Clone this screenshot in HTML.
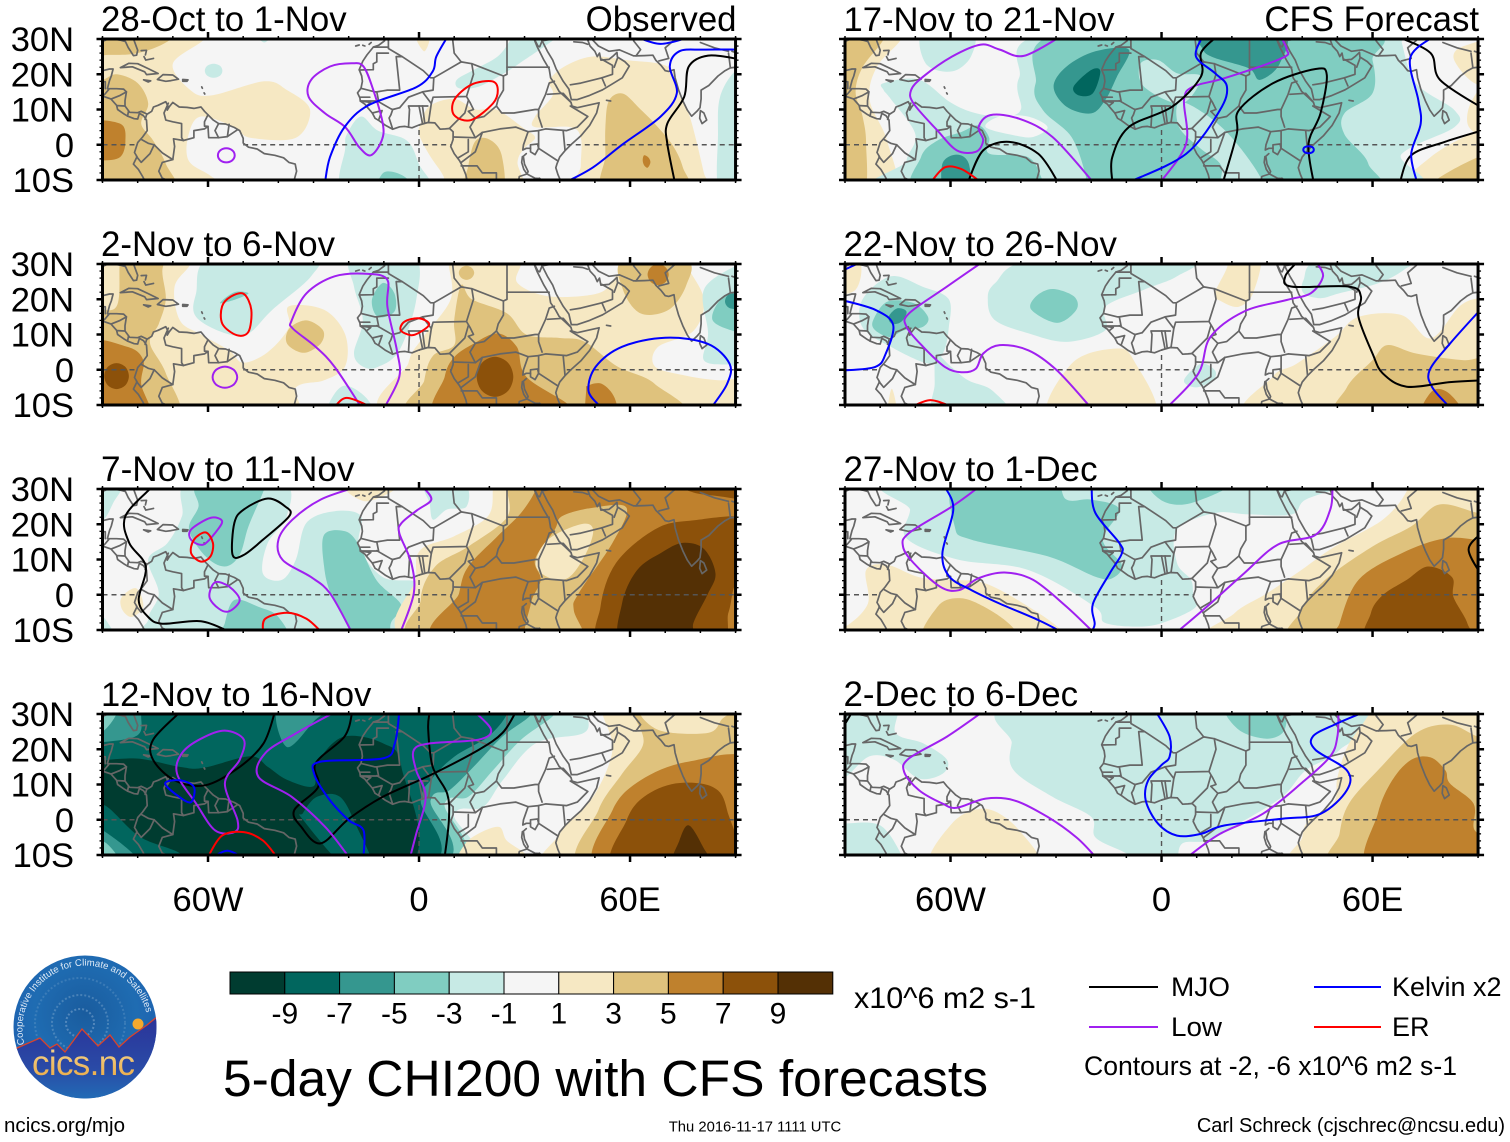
<!DOCTYPE html>
<html lang="en">
<head>
<meta charset="utf-8">
<title>5-day CHI200 with CFS forecasts</title>
<style>
html,body{margin:0;padding:0;background:#fff;}
svg{display:block;}
text{font-family:"Liberation Sans",sans-serif;fill:#000;}
</style>
</head>
<body>
<svg id="chart" xmlns="http://www.w3.org/2000/svg" width="1510" height="1142" viewBox="0 0 1510 1142">
  <rect x="0" y="0" width="1510" height="1142" fill="#fff"/>
  <g id="panels"></g>
  <g id="colorbar"></g>

  <text x="854" y="1008" font-size="30" textLength="182" lengthAdjust="spacingAndGlyphs">x10^6 m2 s-1</text>
  <text x="223" y="1096" font-size="51.4" textLength="765" lengthAdjust="spacingAndGlyphs">5-day CHI200 with CFS forecasts</text>

  <g>
    <line x1="1089" x2="1158" y1="987" y2="987" stroke="#000" stroke-width="2"/>
    <text x="1171" y="996" font-size="27" textLength="59" lengthAdjust="spacingAndGlyphs">MJO</text>
    <line x1="1314" x2="1381" y1="987" y2="987" stroke="#0000ff" stroke-width="2"/>
    <text x="1392" y="996" font-size="27">Kelvin x2</text>
    <line x1="1089" x2="1158" y1="1027" y2="1027" stroke="#a020f0" stroke-width="2"/>
    <text x="1171" y="1036" font-size="27" textLength="51" lengthAdjust="spacingAndGlyphs">Low</text>
    <line x1="1314" x2="1381" y1="1027" y2="1027" stroke="#ff0000" stroke-width="2"/>
    <text x="1392" y="1036" font-size="27">ER</text>
    <text x="1084" y="1075" font-size="27" textLength="373" lengthAdjust="spacingAndGlyphs">Contours at -2, -6 x10^6 m2 s-1</text>
  </g>

  <text x="4" y="1132" font-size="20.5" textLength="121" lengthAdjust="spacingAndGlyphs">ncics.org/mjo</text>
  <text x="755" y="1131.5" font-size="14.8" text-anchor="middle">Thu 2016-11-17 1111 UTC</text>
  <text x="1505" y="1132" font-size="20" text-anchor="end">Carl Schreck (cjschrec@ncsu.edu)</text>

  <g>
    <defs>
      <radialGradient id="logoBlue" cx="50%" cy="40%" r="60%">
        <stop offset="0" stop-color="#1a5c9e"/>
        <stop offset="0.6" stop-color="#1f6cb2"/>
        <stop offset="1" stop-color="#1e5fb0"/>
      </radialGradient>
      <linearGradient id="logoLow" x1="0" y1="0" x2="0" y2="1">
        <stop offset="0" stop-color="#2b3399"/>
        <stop offset="0.55" stop-color="#2a4aa6"/>
        <stop offset="1" stop-color="#1f77bb"/>
      </linearGradient>
      <linearGradient id="logoText" x1="0" y1="0" x2="0" y2="1">
        <stop offset="0" stop-color="#f4d895"/>
        <stop offset="1" stop-color="#eaa63e"/>
      </linearGradient>
      <clipPath id="logoClip"><circle cx="85" cy="1027" r="71.5"/></clipPath>
      <path id="logoArc" d="M 24.4 1044.4 A 63 63 0 1 1 146.4 1012.8"/>
    </defs>
    <circle cx="85" cy="1027" r="71.5" fill="url(#logoBlue)"/>
    <g clip-path="url(#logoClip)">
      <circle cx="80" cy="1023" r="14" fill="none" stroke="#7fa8cf" stroke-width="2" stroke-dasharray="2 2" opacity=".55"/>
      <circle cx="80" cy="1023" r="28" fill="none" stroke="#7fa8cf" stroke-width="2" stroke-dasharray="2 2" opacity=".45"/>
      <circle cx="80" cy="1023" r="45" fill="none" stroke="#7fa8cf" stroke-width="2" stroke-dasharray="2 2" opacity=".3"/>
      <circle cx="138" cy="1024" r="5.5" fill="#f5a92e"/>
      <path d="M10 1052 L17 1048 L40 1038 L50 1048 L57 1044 L65 1052 L82 1029 L98 1046 L110 1035 L119 1047 L130 1037 L147 1025 L158 1016 L160 1110 L10 1110 Z" fill="url(#logoLow)" stroke="#d9432c" stroke-width="1.3"/>
    </g>
    <text font-size="9.6" style="fill:#dfeaf6"><textPath href="#logoArc" startOffset="0">Cooperative Institute for Climate and Satellites</textPath></text>
    <text x="32" y="1075" font-size="35" textLength="103" lengthAdjust="spacing" style="fill:url(#logoText)">cics.nc</text>
  </g>
</svg>

<script>
/* ---------- axis data ---------- */
const latTicks = [30, 20, 10, 0, -10];
const latLabels = ['30N', '20N', '10N', '0', '10S'];
const lonTicks = [-60, 0, 60];
const lonLabels = ['60W', '0', '60E'];
const lonMinor = [-90, -80, -70, -50, -40, -30, -20, -10, 10, 20, 30, 40, 50, 70, 80, 90];
const latMinor = [28, 26, 24, 22, 18, 16, 14, 12, 8, 6, 4, 2, -2, -4, -6, -8];
const panelTitles = ['28-Oct to 1-Nov', '2-Nov to 6-Nov', '7-Nov to 11-Nov', '12-Nov to 16-Nov', '17-Nov to 21-Nov', '22-Nov to 26-Nov', '27-Nov to 1-Dec', '2-Dec to 6-Dec'];
const cornerNotes = ['Observed', '', '', '', 'CFS Forecast', '', '', ''];

/* ---------- colorbar data ---------- */
const levelColors = ['#003c30', '#01665e', '#35978f', '#80cdc1', '#c7eae5', '#f5f5f5', '#f6e8c3', '#dfc27d', '#bf812d', '#8c510a', '#543005'];
const colorbarLabels = ['-9', '-7', '-5', '-3', '-1', '1', '3', '5', '7', '9'];
const lineColors = {black: '#000000', purple: '#a020f0', blue: '#0000ff', red: '#ff0000'};

/* ---------- ocean-only reference lines (lon/lat) ---------- */
const equatorSegments = [[-90, -80], [-50, 9], [42, 90]];
const meridianSegment = [-10, 5.5];

/* ---------- coastlines and borders (lon, lat) ---------- */
const coastlines = [
[[-90,21],[-88,21.5],[-87,21.5],[-87.5,19.5],[-88,18.2],[-88.6,15.9],[-86,15.9],[-84,15.8],[-83.2,15],[-83.6,12.5],[-83.6,11],[-82.3,9.2],[-80,9.1],[-79,9.5],[-77.3,8.7],[-76,9.5],[-75.5,10.7],[-74.2,11.2],[-72,12.2],[-71.4,11],[-71.6,9.8],[-71,10.8],[-70,12],[-68.2,10.7],[-66,10.6],[-64,10.3],[-62,10.7],[-61,9.5],[-60,8.5],[-58.5,7],[-57,6],[-55,5.9],[-52.5,4.9],[-51,4],[-50,1.8],[-50,0.5],[-48.5,-0.7],[-46,-1.2],[-44,-2.5],[-41,-3],[-38.5,-3.7],[-37,-5],[-35.2,-5.5],[-34.8,-7.5],[-35.5,-10]],
[[-90,13.8],[-87.6,13],[-86,11.2],[-85.7,10],[-83.7,8.6],[-82.8,8.1],[-81,7.4],[-80,7.3],[-79.5,8.9],[-78.3,8.2],[-77.5,7],[-77.3,4],[-78.6,2.2],[-80,0.6],[-80.9,-2.2],[-80.2,-3.4],[-81.2,-5.5],[-79.8,-7],[-78.6,-9],[-77.8,-10.5]],
[[-90,29.3],[-88,30.2],[-85,29.7],[-83.5,29.3],[-82.7,27.6],[-81.2,25.3],[-80.3,25.4],[-80,26.8],[-81,29.5],[-81.3,30.5]],
[[-84.9,21.9],[-82.5,23.1],[-80,23],[-77,21.6],[-74.2,20.2],[-77.5,19.9],[-78,20.7],[-81.5,22.1],[-84.9,21.9]],
[[-74.4,18.5],[-72.8,19.9],[-70,19.8],[-68.4,18.6],[-70.5,18.2],[-72,18],[-74.4,18.5]],
[[-78.3,18.4],[-76.3,18.1],[-77,17.8],[-78.3,18.4]],
[[-67.2,18.5],[-65.7,18.4],[-66,18],[-67.2,18],[-67.2,18.5]],
[[-79,26.7],[-77.5,26.8],[-77.8,25.5]],
[[-78.2,25],[-77.7,24],[-75.5,24.5]],
[[-61.8,16.4],[-61.6,16]],
[[-61.1,14.7],[-60.9,14.4]],
[[-18,28],[-17,28.3]],[[-16,28.2],[-15.4,28]],[[-14.2,28.5],[-13.6,29]],
[[-9.7,30.5],[-9.8,29.5],[-11.5,28.2],[-13,27.7],[-14.8,25.5],[-16,23.7],[-17,21.3],[-16.3,19.5],[-16.1,18],[-16.5,16],[-17.5,14.7],[-16.8,13.3],[-16.7,12.4],[-15.4,11.5],[-14.6,10.5],[-13.3,9],[-12.5,7.5],[-11.3,6.8],[-9.5,5.5],[-7.5,4.4],[-5.5,5.1],[-4,5.2],[-2,4.8],[0,5.6],[2.5,6.3],[4.5,6.2],[6,4.4],[7.5,4.5],[8.7,4.6],[9.7,3.7],[9.7,1.5],[9,-0.5],[10,-2.5],[11.5,-4.5],[12.3,-6],[13.3,-8.5],[13.8,-10.8]],
[[32.5,30.5],[33.6,27.8],[35.5,24],[37,21.5],[37.4,19],[38.8,17],[39.8,15.2],[41.5,13.6],[43.2,12],[43.5,11],[45,10.5],[48,11.2],[51.2,11.9],[50.5,9],[48.5,5.5],[46,2.5],[43.5,0.3],[41.5,-1.7],[40,-3.5],[39.2,-5.5],[38.9,-6.5],[39.5,-8.5],[40.5,-10.8]],
[[32.7,30.2],[33.8,28],[34.3,27.8],[35,29.5],[36.5,26.5],[38,24],[39,21.5],[41,18],[42.6,15.8],[43.3,12.8],[45,12.8],[48.5,14],[52.2,15.6],[55,17.3],[57.8,19],[59.8,22.3],[58.5,23.6],[56.4,24.9],[56.3,26.2],[55,25],[54,24.2],[51.7,24],[51.3,26],[50.7,25],[50,26.5],[48.6,28],[48,29.7],[48.8,30.3]],
[[48.8,30.3],[51,28],[54,26.5],[57,26.9],[61,25.2],[64,25.3],[66.5,25.4],[67.3,24],[68.8,22.5],[70,21],[71,20.8],[72.5,21.3],[72.8,19],[73.8,15.5],[75,12.5],[76.3,9.8],[77.5,8.1],[79,9.5],[79.9,10.5],[80.2,13],[80.2,15.5],[82.4,16.8],[85,19.5],[87,21],[88.5,21.8],[90,22]],
[[80,9.7],[79.8,7.5],[80.5,6],[81.8,7],[81,9],[80,9.7]],
[[53.3,12.6],[54.5,12.4]],
[[29.4,-3.4],[29.2,-5],[29.8,-7],[30.7,-8.3],[31,-7.6],[30,-5.5],[29.7,-3.6],[29.4,-3.4]],
[[31.7,0],[33.7,0.2],[34,-1],[33,-2.8],[31.7,-2],[31.7,0]],
[[34.2,-9.5],[34.8,-10.5],[34.4,-12]]
];
const borders = [
[[-91,17.9],[-89.2,17.9],[-89.2,15.9]],[[-88.2,15.7],[-89.3,14.4],[-90,13.8]],[[-83.2,15],[-85,14],[-87.5,13]],[[-83.7,11],[-85.7,11.1]],[[-82.6,9.5],[-82.9,8.1]],[[-77.4,8.7],[-77.9,7.2]],
[[-71.3,11.8],[-72.5,9],[-72,7],[-70,6.5],[-67.5,6],[-67.5,2],[-67,1.2],[-69.8,1.7],[-69.5,-0.5],[-70,-4.2]],
[[-78.8,1.4],[-77,0.4],[-75.3,0],[-73,-2.3],[-70,-4.2],[-73,-5],[-74,-7.5],[-73,-9.5],[-70.5,-10.5]],
[[-80.3,-3.4],[-79,-5],[-76.5,-2.5],[-75.3,0]],
[[-60,8.5],[-61,6.5],[-61,5.3],[-60,5.2]],
[[-67,1.2],[-64,2],[-64,4],[-61,4.5],[-60,5.2],[-59.8,2],[-57,2],[-54.5,2.3],[-51.7,4.2]],
[[-57,6],[-58,4],[-57,2]],[[-54,5.8],[-54.5,2.3]],
[[-8.7,30.5],[-8.7,27.3],[-4.8,25],[1.2,21],[3.3,19],[4.2,19],[12,23.5],[15,23],[24,19.5],[24,15.5],[22.5,13],[22,11],[23.5,9],[27,9],[33,10],[34,10],[36,14.3],[37,17.5],[38.5,18]],
[[-13,27.7],[-8.7,27.7]],[[-8.7,26],[-12,26],[-12,23.5],[-13,23],[-13,21.3],[-17,21.2]],
[[-4.8,25],[-6.5,25],[-5.5,15.5],[-9,15.5],[-12,15],[-12.5,15],[-16.5,16]],
[[9.5,30.5],[10,26],[12,23.5]],[[25,30.5],[25,22],[37,22]],[[24,19.5],[25,20],[25,22]],
[[15,23],[15.5,20],[13.5,13.7],[4,13.5],[3.5,11.7],[1,15],[4,15.5],[4.2,19]],
[[-5.5,10.5],[-3,13.5],[1,15]],
[[13.5,13.7],[14.5,12],[15.5,10],[14,9.5],[16,7.5],[18.5,8],[22,11]],
[[14,12.5],[13,9],[9,5],[8.6,4.6]],
[[2.7,6.3],[3.5,11.7]],[[1.6,6.2],[1,11]],[[1,6],[0,11]],[[-3,5],[-2.7,10],[-3,11],[2.5,11]],
[[-7.5,4.4],[-8.5,7.6],[-8,8.5],[-7.5,10],[-5.5,10.5]],
[[-12,12.5],[-8,10.2],[-7.5,10]],[[-16.7,12.4],[-11.5,12.4],[-12,15]],
[[-13.3,9],[-10.5,9.7],[-11.5,7]],[[-16.7,12.4],[-13.7,12],[-15,11]],[[-16.8,13.5],[-14,13.5]],
[[16,7.5],[14.5,5],[16,2],[9.8,2.2]],[[16,2],[18,3.5],[23,4.5],[27.5,5],[31,3.7],[34,4],[36,4.5],[42,4],[45,5],[48,8],[43,11]],
[[18,3.5],[16,-2],[12,-5]],[[11,-3.8],[14,-2],[14,1.5]],
[[34,10],[34,8],[35,5]],[[36.5,14.3],[41,14.6],[43,12.3]],
[[34,4],[34,1],[34,-1],[39.5,-4.6]],[[41.5,-1.5],[41,3.9]],
[[31,3.7],[29.7,0],[29.5,-1.5],[30.5,-1],[31.7,-1]],[[30.5,-2.5],[29.4,-3.5]],
[[30.7,-8.3],[33,-9.5],[34.4,-9.6]],[[34.8,-11.5],[40.5,-10.7]],
[[12,-6],[16.5,-6],[18,-8],[22,-8],[22,-11]],[[24,-11],[28,-12],[28.5,-9],[30.7,-8.3]],
[[34.3,31],[35,29.5]],[[35,29.5],[38,30],[39,32]],[[44,29.2],[46.5,29],[48,28.5]],
[[43,17],[46,17.5],[52,19],[55,20],[55,22.5],[52,24.2]],[[52,19],[53,16.7]],[[55.5,22],[56.4,24.5]],
[[61.7,25.2],[63,27],[61,29.5],[61,30.5]],[[68.2,23.8],[71,24.5],[70,27.5],[73.5,30.5]],
[[80,29],[84,27.5],[88,26.5]],[[88,26],[88.5,22]],[[89,26.5],[92,25.5]]
];

/* ---------- panel 1: 28-Oct to 1-Nov ---------- */
const fills0 = [
[1,[[-95,35],[-60,35],[-61,30],[-70,23],[-65,15.5],[-59,14],[-44,18],[-37.5,15.5],[-31,10],[-35,2],[-48,2],[-52.5,5],[-62,8],[-65.5,3],[-65.5,-4.5],[-59,-9],[-54,-14],[-95,-14]]],
[2,[[-95,35],[-66,35],[-71.5,29.3],[-80,26],[-88,25.5],[-95,26]]],
[2,[[-90,18.4],[-86,20],[-80,17.5],[-77,11.7],[-79,6],[-75.6,1.2],[-72,-5.4],[-70,-14],[-95,-14],[-95,18]]],
[3,[[-95,6],[-85,6],[-83.5,1],[-85,-3.5],[-90,-4.5],[-95,-4.5]]],
[1,[[-1,31],[3,31],[1.5,26.5]]],
[1,[[0.5,6],[3,11],[10,13],[16,10],[22,10],[30,4.5],[33,2],[30,-1],[28,-5],[29,-14],[8,-14],[7,-9],[3,-3],[0,3]]],
[2,[[16,1],[20,1.5],[23.5,-3],[23.5,-14],[13,-14],[14,-6]]],
[1,[[41,22],[49,25],[59,24],[71,22],[74,14],[77,8],[81,-8],[82,-14],[46,-14],[46,-6],[46,2],[43,5],[33,5],[33,8],[38,14],[37,18]]],
[2,[[54,12.5],[58,14.5],[63,10],[67,6],[72,0],[75,-6.4],[76,-14],[53,-14],[53,-3],[53,5]]],
[3,[[64,-3],[65.2,-3.6],[65.8,-5],[65,-6.5],[64,-5.8],[63.6,-4.4]]],
[-1,[[-58.4,23],[-56.6,22.4],[-55.9,21],[-56.6,19.6],[-58.4,19],[-60.2,19.6],[-60.9,21],[-60.2,22.4]]],
[-1,[[-46,31],[-42,31],[-44,29]]],
[-1,[[-16.5,8],[-11.7,4],[-3.5,1.2],[0,-5.5],[3,-14],[-21,-14],[-21,-1],[-20.5,3]]],
[-2,[[-12,-14],[-10.5,-8.3],[-7,-7.8],[-3,-10],[-2,-14]]],
[-1,[[10.7,18.4],[15.5,21.2],[22.3,25],[25.7,29.3],[27,32],[40,32],[38.6,30],[28.4,23],[23.7,20],[17,16.5],[11.4,16]]],
[-1,[[95,22],[90,21],[85.6,13.6],[85,3],[85.6,-14],[95,-14]]]
];
const lines0 = [
['purple',1,[[-19.2,23.1],[-15.8,22.2],[-13,15.5],[-10.3,6],[-10.6,1.2],[-13.7,-3],[-17,-0.7],[-21,5],[-26.7,8.9],[-31.4,13.6],[-30.7,18.4],[-25.3,22.2]]],
['purple',1,[[-54.8,-1],[-53.1,-1.6],[-52.4,-3],[-53.1,-4.4],[-54.8,-5],[-56.5,-4.4],[-57.2,-3],[-56.5,-1.6]]],
['blue',0,[[-26.7,-10.5],[-25.3,-3.5],[-21.2,5],[-14.4,11.2],[-0.8,16.3],[3.9,20.8],[4.9,25],[8,30.5]]],
['red',1,[[20.8,18],[22.4,15.5],[21,11.7],[14.8,7],[10,8.4],[10,12.7],[14.8,17]]],
['blue',0,[[42,-10.5],[49.5,-6.4],[57.7,0],[68.6,7.9],[73.3,14.6],[71.3,22.2],[74,26.5],[80.8,27],[91,27]]],
['blue',0,[[62,30.5],[68.6,28.6],[76,30.2]]],
['black',0,[[72.7,-10.5],[70.6,0.3],[70.6,6],[75.4,13.6],[76.7,22.2],[82.2,25.3],[91,24.3]]]
];

/* ---------- panel 2: 2-Nov to 6-Nov ---------- */
const fills1 = [
[1,[[-65,35],[-65,30],[-69.5,23.6],[-68,14],[-62,10],[-54,5.5],[-50,2],[-43,5],[-37,12],[-37,18],[-27,17],[-21,10],[-21,1],[-27,-3],[-35,-5],[-39,-14],[-95,-14],[-95,35]]],
[2,[[-84,35],[-72,35],[-73,28],[-72,20],[-74,13],[-76.5,7.5],[-72,-1],[-69,-14],[-95,-14],[-95,15],[-86,18]]],
[3,[[-95,7],[-83,6.5],[-78.4,2.7],[-79,-4],[-77,-14],[-95,-14]]],
[4,[[-86,1.9],[-83.5,0.8],[-82.5,-1.8],[-83.5,-4.4],[-86,-5.5],[-88.5,-4.4],[-89.5,-1.8],[-88.5,0.8]]],
[2,[[-32,14],[-27.3,11.2],[-28,7.4],[-32.8,4.8],[-37.5,7.4],[-36.9,11.7]]],
[1,[[8,35],[8.4,30],[9,20],[1,9],[-3,2],[-5,-14],[95,-14],[95,-3],[85,-3],[75,-1.5],[67,1],[68,6.5],[78,11],[81,20],[76,30],[76,35],[58,35],[58,30],[56,26.5],[51,21.7],[37,20.8],[28,24.6],[29,30],[29,35]]],
[2,[[12,24],[15,20],[25,16],[30.5,10],[40,9],[47,8],[56.3,1],[67,-4],[72,-14],[1,-14],[1.5,-3],[4,4],[10,7],[10,14]]],
[2,[[13.5,29.5],[15,28.9],[15.7,27.5],[15,26.1],[13.5,25.5],[12,26.1],[11.3,27.5],[12,28.9]]],
[2,[[58,31],[76,31],[76,24],[71,17],[63,16],[58,22.7]]],
[3,[[68,30],[70.1,29.1],[71,27],[70.1,24.9],[68,24],[65.9,24.9],[65,27],[65.9,29.1]]],
[3,[[22.3,10.3],[27.8,6.5],[30.5,-2],[42.6,-10],[43,-14],[6,-14],[7.3,-2],[10,3.6],[15.5,7.4]]],
[4,[[21.6,3.7],[25.3,2],[26.8,-2],[25.3,-6],[21.6,-7.7],[17.9,-6],[16.4,-2],[17.9,2]]],
[3,[[48,-14],[47.5,-6],[48,-4.5],[52,-4],[55.6,-8],[56,-14]]],
[-1,[[-59,32],[-63.4,21.7],[-63.4,15],[-55,10.3],[-48.5,10.3],[-41.7,17],[-30.7,26.5],[-30.7,32]]],
[-2,[[-56.6,18.9],[-52.5,22],[-48.5,21.7],[-52,20]]],
[-1,[[-19,32],[-18.5,23.6],[-16,14],[-18.5,4.6],[-15.8,0.8],[-11.7,0.8],[-5.6,5.5],[-0.8,19.8],[-1.5,32]]],
[-2,[[-10.3,24.6],[-7,21.7],[-7,16.5],[-11.7,15],[-13.4,19.8]]],
[-1,[[-26,-14],[-25.3,-9],[-21.2,-4.5],[-15,-8],[-13,-14]]],
[-1,[[95,31],[90,29.5],[81,22.7],[82.2,10.3],[81,2.7],[88,1.5],[95,2]]],
[-2,[[95,22],[90,21.7],[85.6,19.8],[83.5,14],[90,10.8],[95,10.5]]],
[-3,[[88.3,21.5],[92,21],[92,17.5],[88.3,17.5],[87,19.4]]]
];
const lines1 = [
['purple',0,[[-9.7,-10.5],[-5.6,-2],[-6.3,5.5],[-9,17.9],[-9,25.5],[-14.4,27.2],[-24,26.5],[-32,21.7],[-36.2,14],[-35.9,11.7],[-29.4,6.5],[-24,0.8],[-16.5,-10.5]]],
['purple',1,[[-55.2,0.9],[-52.7,0],[-51.7,-2.1],[-52.7,-4.2],[-55.2,-5.1],[-57.7,-4.2],[-58.7,-2.1],[-57.7,0]]],
['red',1,[[-49.8,21.5],[-47.7,17],[-48.5,10.8],[-51.8,9.8],[-55.9,13],[-56,18],[-53.4,20.8]]],
['red',1,[[-0.1,14.6],[2.9,13],[0.5,10.8],[-2.2,9.8],[-5.2,11.2],[-4.2,13.6]]],
['red',0,[[-24,-10.5],[-20.5,-8],[-13.7,-10.5]]],
['blue',0,[[51.6,-10.5],[48.2,-6],[50.2,0.8],[57.7,6.5],[70,9.1],[82,7.4],[88.3,1.7],[87.6,-4],[83.3,-10.5]]]
];

/* ---------- panel 3: 7-Nov to 11-Nov ---------- */
const fills2 = [
[-1,[[-65.4,32],[-67.4,22.3],[-71.5,14.7],[-77,10],[-74,0.4],[-77,-7],[-74,-14],[1,-14],[-0.8,-0.6],[-0.8,3.7],[-10.3,5],[-17,13.7],[-16.5,22.3],[-24,23.7],[-32,20.4],[-35,10],[-39,4.2],[-44.4,6],[-43,14.7],[-37.6,22.3],[-39,32]]],
[-1,[[-95,31],[-85,31],[-87,26],[-90,21],[-95,20]]],
[-1,[[-95,-4],[-90,-6],[-86,-14],[-95,-14]]],
[-1,[[4,21.3],[8,24.2],[13.5,25],[13,31],[2,31],[3,26]]],
[-2,[[-44.4,31],[-44.4,29],[-48.5,19.4],[-51,11.3],[-55.2,8],[-60.7,10.9],[-65.4,18.5],[-62.7,25],[-62.7,31]]],
[-2,[[-27,17],[-21,18],[-17,14],[-12,4],[-5,-3],[-8,-8],[-9,-14],[-18.5,-14],[-20,-9],[-25,0],[-27,8]]],
[-2,[[-55.2,-8],[-52.5,-1.5],[-45.7,-3.4],[-40,-6.3],[-37.6,-14],[-56,-14]]],
[1,[[-84.5,-0.6],[-80.4,1.8],[-78.4,-3.4],[-81.8,-6.3],[-84.5,-4]]],
[1,[[-21,31],[-15,26.5],[-6,31]]],
[1,[[21,35],[21,30],[19.6,22.3],[10,16.6],[0.5,12.8],[-0.8,5],[0.5,-14],[95,-14],[95,35]]],
[2,[[25,35],[25,30],[25,22],[14,13.7],[4.6,8],[0.5,-1.5],[4,-14],[95,-14],[95,35]]],
[3,[[33,35],[33.2,30],[29,23.2],[22.3,16.6],[14,8],[11.4,0.4],[8.7,-14],[95,-14],[95,35]]],
[2,[[40.7,22.3],[49.5,24.7],[59,24.7],[55,14.7],[45.4,0.4],[44,-4.4],[46.8,-14],[31,-14],[31.8,-2.5],[34.6,4.2],[33,10],[38.6,18.5]]],
[1,[[46,20],[49.5,18.5],[47.5,11.8],[42.7,5],[37.3,4.7],[33.2,8.5],[36.6,15.6]]],
[4,[[95,21],[77,21],[67,18.5],[56,9],[51.6,-3.4],[53,-14],[84,-14],[88,-5],[90,3],[95,5]]],
[5,[[75,14.7],[81,13],[84.3,6],[82,0],[78,-8],[77,-14],[58,-14],[57.7,-2.5],[62,7],[69,12]]],
[4,[[76,31],[78,29],[85,28],[95,27],[95,31]]]
];
const lines2 = [
['black',0,[[-76,30.5],[-83.5,22.3],[-82.4,14.7],[-77.7,8],[-79.7,-1.5],[-77,-6.3],[-73,-8.2],[-62,-7.5],[-53.9,-10.5]]],
['black',1,[[-43,27.3],[-38,25],[-36.9,22.3],[-44.4,15.6],[-49.8,11.3],[-53,11.3],[-52.5,20.4],[-49.8,24.2]]],
['purple',1,[[-59.3,21.8],[-56,20.9],[-58,17.5],[-61.4,14.2],[-64.8,15.6],[-64.8,18.5]]],
['red',1,[[-60.7,17.7],[-58.6,14.7],[-59.3,10.9],[-62,9.4],[-64.8,11.8],[-64,15.6]]],
['purple',1,[[-58,3.5],[-54,2.3],[-51,-1.5],[-54,-4.7],[-57,-3.9],[-59.6,-0.6]]],
['red',0,[[-44.4,-10.5],[-43.7,-6.8],[-37.6,-5.1],[-32,-6.8],[-27.8,-10.5]]],
['purple',0,[[-18,30.5],[-28,27],[-36,21.3],[-40,15.6],[-38.8,9.9],[-30.7,5],[-25.3,0.4],[-19.2,-10.5]]],
['purple',0,[[1.2,30.5],[3.5,27],[-0.5,24],[-4.9,20.4],[-5.6,17.5],[-2.2,9],[-1.5,0.4],[-5.2,-10.5]]]
];

/* ---------- panel 4: 12-Nov to 16-Nov ---------- */
const fills3 = [
[-1,[[48,35],[48,30],[46.8,24.6],[33.2,21.7],[23.8,11.2],[18.2,3.6],[10,1.7],[8.7,-14],[-95,-14],[-95,35]]],
[-2,[[38.6,35],[38.6,30],[29,22.7],[21,14],[14,6.5],[7.3,4.6],[6,-14],[-95,-14],[-95,35]]],
[-3,[[32,35],[32,30],[23.7,23.6],[15.5,15],[8.7,8.4],[3.3,5.5],[2.6,-14],[-95,-14],[-95,35]]],
[-4,[[25,35],[25,30],[19.6,23.6],[10,17.9],[3.3,11.2],[0.5,5.5],[-0.8,-14],[-95,-14],[-95,35]]],
[-3,[[-95,35],[-79,35],[-79,30],[-80,24],[-90,22],[-95,22]]],
[-2,[[-95,35],[-85,35],[-86,30],[-90,25],[-95,24]]],
[-3,[[-95,-2],[-90,-3],[-81,-10],[-80,-14],[-95,-14]]],
[-2,[[-95,-6],[-90,-6],[-86,-10],[-85,-14],[-95,-14]]],
[-3,[[-40,32],[-37.5,20.6],[-29.4,28.4],[-25,32]]],
[-5,[[-95,15],[-81.4,17.4],[-68,15],[-61.4,14.7],[-48,18],[-43,15],[-37.5,11.3],[-30,9.5],[-29,16],[-21.6,23.5],[-10.3,21.7],[-5,15],[-4.5,-14],[-66,-14],[-68,-9.5],[-79.4,-4.8],[-88.7,3.7],[-95,6]]],
[-4,[[-33,1.9],[-29,6.5],[-22.5,6.5],[-17.7,-2],[-13,-14],[-20.5,-14],[-33,0]]],
[1,[[52.2,35],[52.2,30],[55,19.8],[49.5,6.5],[40,-4],[38.6,-14],[95,-14],[95,35]]],
[1,[[13.5,-6.4],[22.3,-2],[25,-6],[30.5,-10],[31,-14],[12,-14]]],
[2,[[61,35],[61,30],[63.8,21.7],[57.7,13],[51,2.7],[47,-14],[95,-14],[95,35]]],
[1,[[64,32],[68,25.5],[82,24.6],[86,28.4],[88,32]]],
[3,[[95,16],[76.7,16.5],[63,11.2],[55,2.7],[51.6,-14],[95,-14]]],
[4,[[73,10.3],[83.5,9.3],[87.6,2.7],[89,-14],[56,-14],[59,-0.2],[64,6.5]]],
[5,[[76.7,-1.6],[80.8,-7.8],[83.3,-14],[72,-14],[74,-6]]]
];
const lines3 = [
['black',0,[[-68,30.5],[-75.6,22.7],[-75.6,17],[-69.5,11.2],[-60.7,9.8],[-51,15],[-44.2,21.7],[-41,30.5]]],
['black',0,[[-19,30.5],[-21.2,23.6],[-29.4,16],[-28.7,9.3],[-35.5,2.7],[-33.5,-2],[-28,-6.7],[-19.9,0.3],[-10.3,6.5],[3.3,12.7],[16.9,19.8],[23.7,24.6],[27.5,30.5]]],
['black',0,[[3,30.5],[2.6,25.5],[3.9,15],[8,7.4],[8.5,0],[7.3,-10.5]]],
['purple',1,[[-55.2,25.3],[-49.8,22.7],[-51,17],[-55.2,10.3],[-51.6,-0.2],[-52.5,-3.5],[-58,-3],[-63.4,4.6],[-68.8,13],[-67.4,18.9],[-62,23]]],
['purple',0,[[-24,30.5],[-34.8,24.6],[-43.7,18.9],[-45.7,12.2],[-36.2,6.5],[-26.7,-2],[-20,-10.5]]],
['purple',0,[[16,30.5],[20.5,25.5],[16.9,22.7],[3.3,21.7],[-1.5,19.8],[-0.8,14],[1.9,6.5],[-0.8,-4],[-2.5,-10.5]]],
['blue',0,[[-5.6,30.5],[-6.9,21.7],[-10.3,17.4],[-28,16.5],[-29.8,13],[-25.3,5.5],[-19.9,-0.2],[-15.8,-3],[-15.8,-10.5]]],
['blue',1,[[-72.2,10.3],[-68,11.2],[-64,9.3],[-64.8,5],[-68.2,6.5]]],
['red',0,[[-60,-10.5],[-56,-4.5],[-49.8,-3.5],[-44.4,-5.9],[-40.5,-10.5]]],
['blue',0,[[-58.5,-10.5],[-54.5,-8.8],[-50.5,-10.5]]]
];

/* ---------- panel 5: 17-Nov to 21-Nov ---------- */
const fills4 = [
[1,[[-95,35],[-74,35],[-74,30],[-81,22],[-83,12.7],[-78,1],[-76,-14],[-95,-14]]],
[2,[[-95,35],[-79,35],[-79,30],[-85,22],[-87,15],[-85,8],[-84,0.3],[-84.8,-14],[-95,-14]]],
[1,[[95,4],[90,4],[76.5,-3.5],[68,-14],[95,-14]]],
[2,[[95,-3],[90,-3.5],[78.5,-9.7],[76,-14],[95,-14]]],
[1,[[95,29],[86,28],[83,25],[86,20],[90,17],[95,17]]],
[1,[[93,18],[88,12],[87,6],[90,3],[93,4]]],
[-1,[[-67.8,32],[-67,23],[-59.6,20.8],[-54.2,25],[-54,32]]],
[-1,[[-29.7,32],[68,32],[68.3,29],[72.4,17.4],[83.3,9.8],[83.3,5],[68.3,-2.6],[64,-14],[-73,-14],[-72.5,-4.5],[-70,3],[-77,13],[-79,15.5],[-79,17.5],[-69,18.5],[-60,12],[-53,9],[-45,8],[-40,10],[-40.5,19]]],
[0,[[-50,5],[-46,8],[-38,8],[-32.4,5],[-36.5,2.2],[-42,2.7]]],
[-2,[[-27,32],[56,32],[60,24],[60,14.6],[52,8.9],[52,3],[58.8,-5.4],[56,-14],[-21.5,-14],[-21.5,-9],[-25.6,2.2],[-33.7,9.8],[-35.8,17.4]]],
[-2,[[-69,-14],[-68.4,-3.5],[-63.7,1.2],[-57,3.6],[-52,5.5],[-49,2],[-49,-2.5],[-38,-3.5],[-34,-9.7],[-33,-14]]],
[-1,[[-1,24],[4.4,20.3],[11.2,19.3],[5.7,11.7],[-5,16.5],[-6,23]]],
[-1,[[5,12],[12,9],[20,2],[28,-9],[28,-14],[17,-14],[17,-6],[11,-1],[5,5]]],
[-3,[[-9.3,27],[-12.7,19.3],[-16,12.7],[-20,8.9],[-27,10.8],[-30.7,16.5],[-27,22.2],[-18.8,26.5]]],
[-4,[[-20,21.2],[-17.4,20.8],[-19.5,14.6],[-23.5,14],[-25,16.5]]],
[-3,[[11.8,32],[11.8,27],[15.2,24.6],[24.8,21.7],[28,18.4],[33.6,23],[34.3,32]]],
[-3,[[-62.3,-5.4],[-58.2,-2.8],[-54.8,-5.4],[-54.8,-14],[-61.6,-14]]]
];
const lines4 = [
['purple',0,[[-29,30.5],[-39.2,25.2],[-46,27],[-51.4,28.4],[-59.6,25],[-67.8,19.3],[-71.2,15.5],[-70.5,11.7],[-63.7,4],[-58.2,-1.6],[-52.8,-2],[-50.7,1.2],[-52,5],[-48.7,8.4],[-40.5,7.4],[-31,2.2],[-19.5,-10.5]]],
['purple',0,[[-0.2,-10.5],[7,0.3],[6.4,12.7],[9,16.5],[18,18.9],[34.3,24.6],[35.6,27],[34,30.5]]],
['black',0,[[-55,-10.5],[-50.7,-1.6],[-43.3,0.8],[-35,-2.6],[-29.5,-10.5]]],
['black',0,[[-14,-10.5],[-14,-3.5],[-9.3,5],[3,10.8],[11.2,19.3],[11.2,26],[15.5,30.5]]],
['black',0,[[17.5,-10.5],[21.4,3.1],[22,9.8],[31.6,17.4],[43.8,21.5],[47,19.8],[45.2,8.9],[41.8,0.3],[43.2,-10.5]]],
['black',0,[[67.5,30.5],[76.5,26],[79.2,18.4],[91,10.5]]],
['black',0,[[67.8,-10.5],[71,-3],[80.5,0.8],[91,4]]],
['blue',0,[[-9,-10.5],[7,-2.6],[16.6,9.8],[18.6,16.5],[15.2,20.3],[9.8,25],[11.5,30.5]]],
['blue',1,[[41.8,-0.4],[42.9,-0.7],[43.3,-1.4],[42.9,-2.1],[41.8,-2.4],[40.7,-2.1],[40.3,-1.4],[40.7,-0.7]]],
['blue',0,[[77,30.5],[70.7,24.6],[73,12.7],[73.7,6],[71,-2.6],[72.6,-10.5]]],
['red',0,[[-65.5,-10.5],[-61.6,-6.4],[-56.9,-6.9],[-51.5,-10.5]]]
];

/* ---------- panel 6: 22-Nov to 26-Nov ---------- */
const fills5 = [
[-1,[[-85,20],[-77,26.5],[-68,23.6],[-60.5,20],[-60.5,12],[-62,5],[-66,1.7],[-77,6.5],[-85,12]]],
[-1,[[-64,4],[-60,1],[-55,-3],[-48,-6],[-43,-14],[-64,-14],[-64.5,-4]]],
[-2,[[-82,14],[-78,19.3],[-70.5,18.9],[-66.4,15],[-67.8,12.2],[-73.2,11.2],[-77.3,9.3],[-81.4,11.2]]],
[-3,[[-77.6,15],[-75.2,17.4],[-72.5,16.5],[-74,13.6],[-76.6,13]]],
[-1,[[-47.3,24.6],[-36.5,31],[7,31],[4.4,26.5],[-5,22.7],[-16,17.9],[-16,11.2],[-27,7.9],[-37.8,10.3],[-47.3,14],[-49.4,19.8]]],
[-2,[[-31,22.9],[-24.9,20.8],[-24.2,17],[-29.7,13.3],[-37,17],[-35.7,20.8]]],
[-1,[[40.4,25.5],[45,31],[70,31],[69,28.4],[61.8,24.6],[50.6,21.7],[45.2,20.3],[40.4,21.7]]],
[-1,[[6.4,-3],[11.2,1.7],[15.2,-0.2],[14.6,-3],[9.8,-5]]],
[1,[[-78,-14],[-76.7,-5.4],[-75,-14]]],
[1,[[-95,31],[-86,31],[-87,22.7],[-95,22]]],
[1,[[15.2,21.7],[18.7,29.3],[18,33],[28,33],[26,21.7],[22,17.9],[17.2,19.3]]],
[1,[[-31.7,-14],[-25.6,1.7],[-13.3,6],[-7.9,2.7],[-2.4,-14]]],
[1,[[26.8,-14],[31.6,-2],[38.4,1.7],[49.3,9.3],[56,15],[68.3,15.5],[76.5,8.9],[84.6,17.9],[90,20.3],[95,20.3],[95,-14]]],
[2,[[52.7,-5],[60,2.7],[64.2,7],[72.4,4.6],[86,2.7],[95,3],[95,-14],[52,-14]]],
[3,[[73.7,-14],[77,-6],[82,-6.9],[86,-14]]]
];
const lines5 = [
['purple',0,[[-51,30.5],[-61,23.6],[-71.8,16],[-72.5,12.2],[-67.8,6.5],[-61.6,0.8],[-56.9,-0.7],[-52.8,0.3],[-50.7,4.6],[-46,7],[-37.8,5.5],[-29.7,-0.2],[-20.3,-10.5]]],
['purple',0,[[1.8,-10.5],[10.5,-1],[13.9,9.3],[23.4,16.5],[35.6,19.8],[42.4,21.7],[45.9,26.5],[44,30.5]]],
['blue',0,[[-91,19.8],[-81.4,17],[-76.3,12.7],[-78.4,4.6],[-81.4,0.8],[-91,-0.2]]],
['blue',0,[[-91,28],[-85.5,30.5]]],
['blue',0,[[91,17.4],[82,7.4],[76.2,-0.2],[77,-5],[81.8,-10.5]]],
['red',0,[[-71,-10.5],[-65.7,-8.6],[-59.5,-10.5]]],
['black',0,[[38.5,30.5],[35.2,26.5],[37,23.6],[53.3,23.6],[56.7,20.8],[56,15],[60,4.6],[62.9,-1],[69.7,-4.8],[82,-3.5],[91,-3]]]
];

/* ---------- panel 7: 27-Nov to 1-Dec ---------- */
const fills6 = [
[1,[[-95,-9],[-90,-9.1],[-83.5,-2.5],[-84,7],[-78,8.5],[-69,5],[-59.6,4.2],[-50,3.2],[-37.8,-3.4],[-29,-9.6],[-27,-14],[-95,-14]]],
[2,[[-67,-14],[-63.7,-3.4],[-56.9,-1],[-48.7,-4.4],[-42,-9.6],[-41,-14]]],
[1,[[69.7,35],[69.7,29.4],[62.9,21.3],[49.3,13.7],[39.7,7],[30,0.4],[20.7,-5.3],[15.9,-14],[95,-14],[95,35]]],
[2,[[95,23],[90,23.2],[79,25.6],[71,19.4],[60,13.7],[46.5,4.2],[39.7,-4.4],[39.7,-14],[95,-14]]],
[3,[[95,15.5],[90,15.6],[80.5,16],[68.3,11.8],[56,4.2],[50.6,-8.2],[50,-14],[95,-14]]],
[4,[[75.8,8],[82.6,5],[83,-0.6],[87,-8.2],[87,-14],[59.5,-14],[59.5,-5.3],[62.9,-0.1],[69.7,4.2]]],
[-1,[[-71,33],[-71.5,24],[-72.5,16],[-58,10],[-37.8,7],[-19,-3.4],[-16,-8],[-5,-9],[3,-7],[9.8,-3.4],[9,0],[8.4,4.2],[4.4,9],[4.4,18.5],[15.2,23.2],[24.8,22.8],[37,22.8],[41,27],[52.7,31],[52.7,33]]],
[-2,[[-58,33],[-58.8,19.4],[-54,15.6],[-32.4,10.9],[-18.8,5.1],[-14,4.7],[-11.3,8.5],[-16.7,15.6],[-12,24.2],[-20,27],[-27,27],[-32.4,33]]],
[-2,[[-2.4,32],[0.3,26.6],[8.4,26],[20,32]]]
];
const lines6 = [
['purple',0,[[-52,30.5],[-59.6,25],[-71.8,17.5],[-73.5,13.7],[-70.5,9],[-63,2.3],[-57.6,1.3],[-52,4.7],[-44.6,6.3],[-36.5,4.2],[-27,-3.4],[-19.5,-10.5]]],
['purple',0,[[4.5,-10.5],[13.9,-2.5],[23.4,6],[33,14.2],[43.8,17],[48,24.2],[48.6,30.5]]],
['blue',0,[[-61.5,30.5],[-59.2,24.2],[-62.3,11.8],[-60.3,5.1],[-54,1.3],[-46,-2.5],[-35,-7.2],[-28.5,-10.5]]],
['blue',0,[[-19.9,30.5],[-18.8,23.2],[-12,14.7],[-11.3,11.7],[-14.7,6.1],[-19.5,-2.6],[-19,-8.3],[-20,-10.5]]],
['black',0,[[91,17.5],[87.3,12.8],[91,5.5]]]
];

/* ---------- panel 8: 2-Dec to 6-Dec ---------- */
const fills7 = [
[-1,[[-39,33],[-42.6,21.7],[-42,14],[-31,6.5],[-20,0.8],[-18.8,-5],[-10.6,-9.2],[-1,-14],[4,-14],[5.7,-6.9],[13.2,-5.9],[22,-1.1],[34.3,6.5],[41,14],[50.6,19.8],[60,33]]],
[-1,[[-95,33],[-76.2,33],[-75.6,24.6],[-67.8,21.7],[-61,17],[-62.3,13],[-69,11.7],[-76,17],[-83,18],[-90,12],[-95,11]]],
[-1,[[-95,-1],[-90,-1],[-80,-1.6],[-73.9,-10],[-73,-14],[-95,-14]]],
[-2,[[18.6,32],[22,25.5],[30,23],[35,25.5],[33.6,32]]],
[1,[[-65,-14],[-59.6,-1.1],[-50,3.1],[-40.5,-3],[-35.8,-14]]],
[1,[[60,35],[59,30],[53,21],[50,12],[49,5],[42,0],[40,-5],[39.7,-14],[95,-14],[95,35]]],
[2,[[95,23.6],[90,23.6],[82,27],[72.4,24.6],[61.5,14],[53.3,4.6],[50.6,-4],[50,-14],[95,-14]]],
[3,[[76.5,17.7],[80.7,14],[82,10.3],[88.7,4.6],[88.7,-2],[90,-5],[90,-14],[59.3,-14],[61.5,1.7],[65.6,11.2],[71,17]]]
];
const lines7 = [
['purple',0,[[-51,30.5],[-61,23.6],[-71.8,17.4],[-73.2,13.6],[-69,8.4],[-62.3,4.6],[-58.2,3.4],[-50,6],[-41.9,5.5],[-32.4,0.8],[-24.2,-5],[-18.8,-10.5]]],
['purple',0,[[7.5,-10.5],[16.6,-4],[28.8,1.7],[39.7,10.3],[47.9,17.9],[50,23.6],[50.3,30.5]]],
['blue',0,[[-1.5,30.5],[2.3,23.6],[2.3,17.9],[0,15.5],[-3.8,11.2],[-4.5,5.5],[-1,-1.1],[4.4,-4.5],[11.2,-4],[18,-1.6],[34.3,0.3],[45.2,1.7],[52.7,8.4],[52.7,14],[43.8,19.8],[43,23.6],[49.2,27],[57.5,30.5]]],
['black',0,[[-91,25.5],[-88,30.5]]]
];

const panelFills = [fills0, fills1, fills2, fills3, fills4, fills5, fills6, fills7];
const panelLines = [lines0, lines1, lines2, lines3, lines4, lines5, lines6, lines7];

/* ---------- drawing ---------- */
const SVG_NS = 'http://www.w3.org/2000/svg';
const LON_SCALE = 3.517;
const LAT_SCALE = 3.525;
const PANEL_W = 180 * LON_SCALE;
const PANEL_H = 40 * LAT_SCALE;
const COLUMN_LEFT = [102.5, 845];
const ROW_TOP = [39, 264, 489, 714];
const TITLE_SIZE = [34.8, 34.8, 35.2, 34.5, 34.6, 34.9, 34.9, 34.9];

function make(tag, attrs, parent) {
  const el = document.createElementNS(SVG_NS, tag);
  for (const k in attrs) el.setAttribute(k, attrs[k]);
  parent.appendChild(el);
  return el;
}

function smoothPath(pts, closed) {
  const n = pts.length;
  const at = i => closed ? pts[(i + n) % n] : pts[Math.max(0, Math.min(n - 1, i))];
  let d = 'M' + pts[0][0].toFixed(1) + ' ' + pts[0][1].toFixed(1);
  const last = closed ? n : n - 1;
  for (let i = 0; i < last; i++) {
    const p0 = at(i - 1), p1 = at(i), p2 = at(i + 1), p3 = at(i + 2);
    const c1x = p1[0] + (p2[0] - p0[0]) / 6, c1y = p1[1] + (p2[1] - p0[1]) / 6;
    const c2x = p2[0] - (p3[0] - p1[0]) / 6, c2y = p2[1] - (p3[1] - p1[1]) / 6;
    d += 'C' + c1x.toFixed(1) + ' ' + c1y.toFixed(1) + ' ' + c2x.toFixed(1) + ' ' + c2y.toFixed(1) + ' ' + p2[0].toFixed(1) + ' ' + p2[1].toFixed(1);
  }
  return closed ? d + 'Z' : d;
}

function straightPath(pts) {
  return 'M' + pts.map(p => p[0].toFixed(1) + ' ' + p[1].toFixed(1)).join('L');
}

const panelsRoot = document.getElementById('panels');
const defs = make('defs', {}, panelsRoot);

panelTitles.forEach(function (title, index) {
  const col = index < 4 ? 0 : 1;
  const row = index % 4;
  const left = COLUMN_LEFT[col];
  const top = ROW_TOP[row];
  const right = left + PANEL_W;
  const bottom = top + PANEL_H;
  const xAt = lon => left + (lon + 90) * LON_SCALE;
  const yAt = lat => top + (30 - lat) * LAT_SCALE;
  const project = pts => pts.map(p => [xAt(p[0]), yAt(p[1])]);

  const group = make('g', {}, panelsRoot);
  
  

  const clip = make('clipPath', {id: 'clip' + index}, defs);
  make('rect', {x: left, y: top, width: PANEL_W, height: PANEL_H}, clip);

  const mapArea = make('g', {'clip-path': 'url(#clip' + index + ')'}, group);
  
  

  const base = make('rect', {x: left, y: top, width: PANEL_W, height: PANEL_H, fill: levelColors[5]}, mapArea);
  
  

  panelFills[index].forEach(function (fill) {
    const shape = make('path', {d: smoothPath(project(fill[1]), true), fill: levelColors[fill[0] + 5]}, mapArea);
    
    
  });

  equatorSegments.forEach(function (seg) {
    const eq = make('line', {x1: xAt(seg[0]), x2: xAt(seg[1]), y1: yAt(0), y2: yAt(0), stroke: '#555', 'stroke-width': 1.4, 'stroke-dasharray': '5 4'}, mapArea);
    
    
  });
  const meridian = make('line', {x1: xAt(0), x2: xAt(0), y1: yAt(meridianSegment[0]), y2: yAt(meridianSegment[1]), stroke: '#555', 'stroke-width': 1.4, 'stroke-dasharray': '5 4'}, mapArea);
  
  

  const coastGroup = make('g', {fill: 'none', stroke: '#666', 'stroke-width': 1.7, 'stroke-linejoin': 'round', 'stroke-linecap': 'round'}, mapArea);
  
  
  coastlines.concat(borders).forEach(function (pts) {
    make('path', {d: straightPath(project(pts))}, coastGroup);
  });

  panelLines[index].forEach(function (line) {
    const contour = make('path', {d: smoothPath(project(line[2]), line[1] === 1), fill: 'none', stroke: lineColors[line[0]], 'stroke-width': 2}, mapArea);
    
    
  });

  const frame = make('rect', {x: left, y: top, width: PANEL_W, height: PANEL_H, fill: 'none', stroke: '#000', 'stroke-width': 3}, group);
  
  

  const ticks = make('g', {stroke: '#000', 'stroke-width': 2}, group);
  
  
  lonTicks.forEach(function (lon) {
    make('line', {x1: xAt(lon), x2: xAt(lon), y1: top - 7, y2: top, 'stroke-width': 2.5}, ticks);
    make('line', {x1: xAt(lon), x2: xAt(lon), y1: bottom, y2: bottom + 7, 'stroke-width': 2.5}, ticks);
  });
  lonMinor.forEach(function (lon) {
    make('line', {x1: xAt(lon), x2: xAt(lon), y1: top - 3, y2: top, 'stroke-width': 1.5}, ticks);
    make('line', {x1: xAt(lon), x2: xAt(lon), y1: bottom, y2: bottom + 3, 'stroke-width': 1.5}, ticks);
  });
  latTicks.forEach(function (lat) {
    make('line', {x1: left - 6, x2: left, y1: yAt(lat), y2: yAt(lat), 'stroke-width': 2.5}, ticks);
    make('line', {x1: right, x2: right + 6, y1: yAt(lat), y2: yAt(lat), 'stroke-width': 2.5}, ticks);
  });
  latMinor.forEach(function (lat) {
    make('line', {x1: left - 3, x2: left, y1: yAt(lat), y2: yAt(lat), 'stroke-width': 1.3}, ticks);
    make('line', {x1: right, x2: right + 3, y1: yAt(lat), y2: yAt(lat), 'stroke-width': 1.3}, ticks);
  });

  const titleEl = make('text', {x: left - 1.5, y: top - 8, 'font-size': TITLE_SIZE[index]}, group);
  titleEl.textContent = title;
  
  

  if (cornerNotes[index]) {
    const note = make('text', {x: right + 1, y: top - 8, 'font-size': 34.8, 'text-anchor': 'end'}, group);
    note.textContent = cornerNotes[index];
    
    
  }

  if (col === 0) {
    latTicks.forEach(function (lat, i) {
      const label = make('text', {x: 74, y: yAt(lat) + 12, 'font-size': 34.5, 'text-anchor': 'end'}, group);
      label.textContent = latLabels[i];
      
      
    });
  }
  if (row === 3) {
    lonTicks.forEach(function (lon, i) {
      const label = make('text', {x: xAt(lon), y: 911, 'font-size': 34.5, 'text-anchor': 'middle'}, group);
      label.textContent = lonLabels[i];
      
      
    });
  }
});

/* colorbar */
const barRoot = document.getElementById('colorbar');
const BAR_LEFT = 230;
const BAR_TOP = 972;
const BAR_STEP = 54.8;
const BAR_H = 22;
levelColors.forEach(function (color, i) {
  const box = make('rect', {x: BAR_LEFT + i * BAR_STEP, y: BAR_TOP, width: BAR_STEP, height: BAR_H, fill: color, stroke: '#000', 'stroke-width': 1}, barRoot);
  
  
});
colorbarLabels.forEach(function (text, i) {
  const label = make('text', {x: BAR_LEFT + (i + 1) * BAR_STEP, y: 1023.5, 'font-size': 30, 'text-anchor': 'middle'}, barRoot);
  label.textContent = text;
  
  
});
</script>
</body>
</html>
